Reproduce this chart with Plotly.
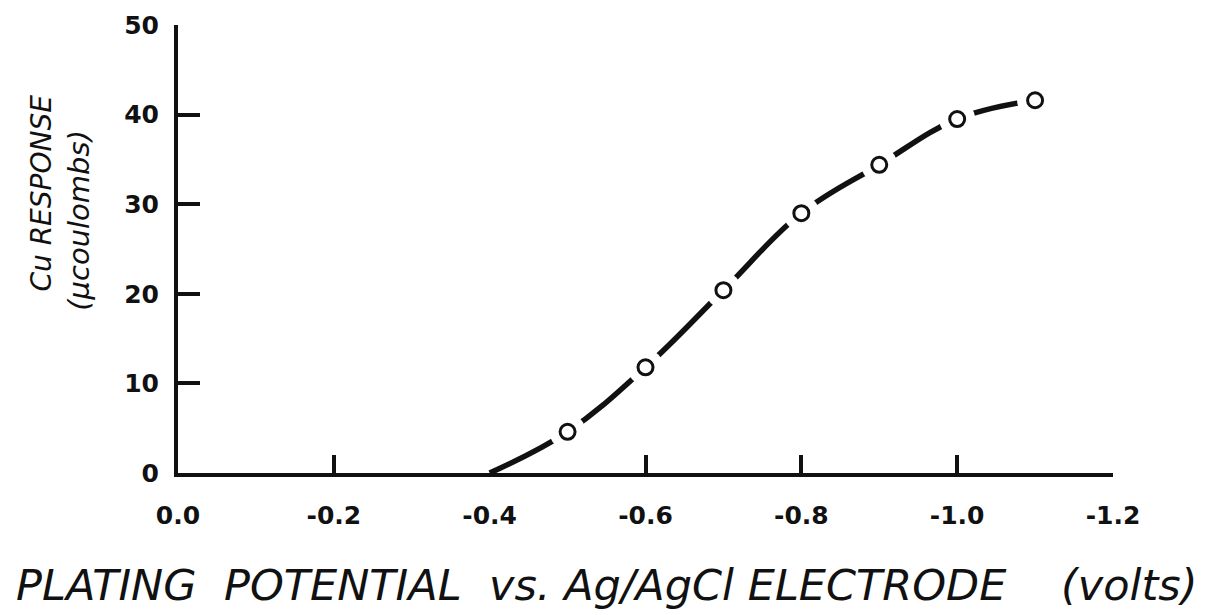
import plotly.graph_objects as go

# Measured copper response vs plating potential
potential = [-0.5, -0.6, -0.7, -0.8, -0.9, -1.0, -1.1]
response = [4.6, 11.8, 20.4, 29.0, 34.4, 39.5, 41.6]

# Smooth curve starts from the onset potential on the baseline
onset_x = [-0.4]
onset_y = [0.0]
curve_x = onset_x + potential
curve_y = onset_y + response

x_tick_vals = [0.0, -0.2, -0.4, -0.6, -0.8, -1.0, -1.2]
x_tick_text = ["0.0", "-0.2", "-0.4", "-0.6", "-0.8", "-1.0", "-1.2"]
x_tick_marks = [-0.2, -0.6, -0.8, -1.0, -1.2]
y_tick_vals = [0, 10, 20, 30, 40, 50]

INK = "#111111"
FONT = "DejaVu Sans"
SP = "\u00a0"

fig = go.Figure()

# fitted curve
fig.add_trace(go.Scatter(
    x=curve_x, y=curve_y, mode="lines",
    line=dict(color=INK, width=5.5, shape="spline", smoothing=1.1),
    hoverinfo="skip", showlegend=False,
))
# white halo so the curve breaks around each point
fig.add_trace(go.Scatter(
    x=potential, y=response, mode="markers",
    marker=dict(size=36, color="white", line=dict(width=0)),
    hoverinfo="skip", showlegend=False,
))
# open circle data points
fig.add_trace(go.Scatter(
    x=potential, y=response, mode="markers",
    marker=dict(size=15, color="white", line=dict(width=3, color=INK)),
    showlegend=False,
))
# tick marks on the baseline (separate overlaid axis)
fig.add_trace(go.Scatter(
    x=[None], y=[None], xaxis="x2", showlegend=False, hoverinfo="skip",
))

x_title = (f"<i>PLATING{SP*2}POTENTIAL{SP*2}vs.{SP}Ag/AgCl{SP}ELECTRODE"
           f"{SP*4}(volts)</i>")

fig.update_layout(
    width=1214, height=615,
    margin=dict(l=178, r=101, t=25, b=142),
    paper_bgcolor="white", plot_bgcolor="white",
    font=dict(family=FONT, color=INK),
    xaxis=dict(
        range=[0.0, -1.2], tickvals=x_tick_vals, ticktext=x_tick_text,
        ticks="", showgrid=False, zeroline=False,
        showline=True, linewidth=4, linecolor=INK,
        tickfont=dict(size=25, family=FONT, color=INK, weight="bold"),
        ticklabelstandoff=17,
    ),
    xaxis2=dict(
        range=[0.0, -1.2], overlaying="x", side="bottom", anchor="y",
        tickvals=x_tick_marks, showticklabels=False,
        ticks="inside", ticklen=18, tickwidth=4, tickcolor=INK,
        showgrid=False, zeroline=False, showline=False,
    ),
    yaxis=dict(
        range=[0, 50], tickvals=y_tick_vals,
        ticks="inside", ticklen=22, tickwidth=4, tickcolor=INK,
        showgrid=False, zeroline=False,
        showline=True, linewidth=4, linecolor=INK,
        tickfont=dict(size=25, family=FONT, color=INK, weight="bold"),
        ticklabelstandoff=10,
    ),
    annotations=[
        dict(
            text=x_title,
            xref="paper", yref="paper", x=0.459, y=-0.25,
            xanchor="center", yanchor="middle", showarrow=False,
            font=dict(size=43, family=FONT, color=INK),
        ),
        dict(
            text="<i>Cu\u00a0RESPONSE</i>",
            xref="paper", yref="paper", x=-0.147, y=0.625,
            xanchor="center", yanchor="middle", showarrow=False, textangle=-90,
            font=dict(size=28, family=FONT, color=INK),
        ),
        dict(
            text="<i>(\u03bccoulombs)</i>",
            xref="paper", yref="paper", x=-0.106, y=0.565,
            xanchor="center", yanchor="middle", showarrow=False, textangle=-90,
            font=dict(size=29, family=FONT, color=INK),
        ),
    ],
)

fig.write_html("out.html")
